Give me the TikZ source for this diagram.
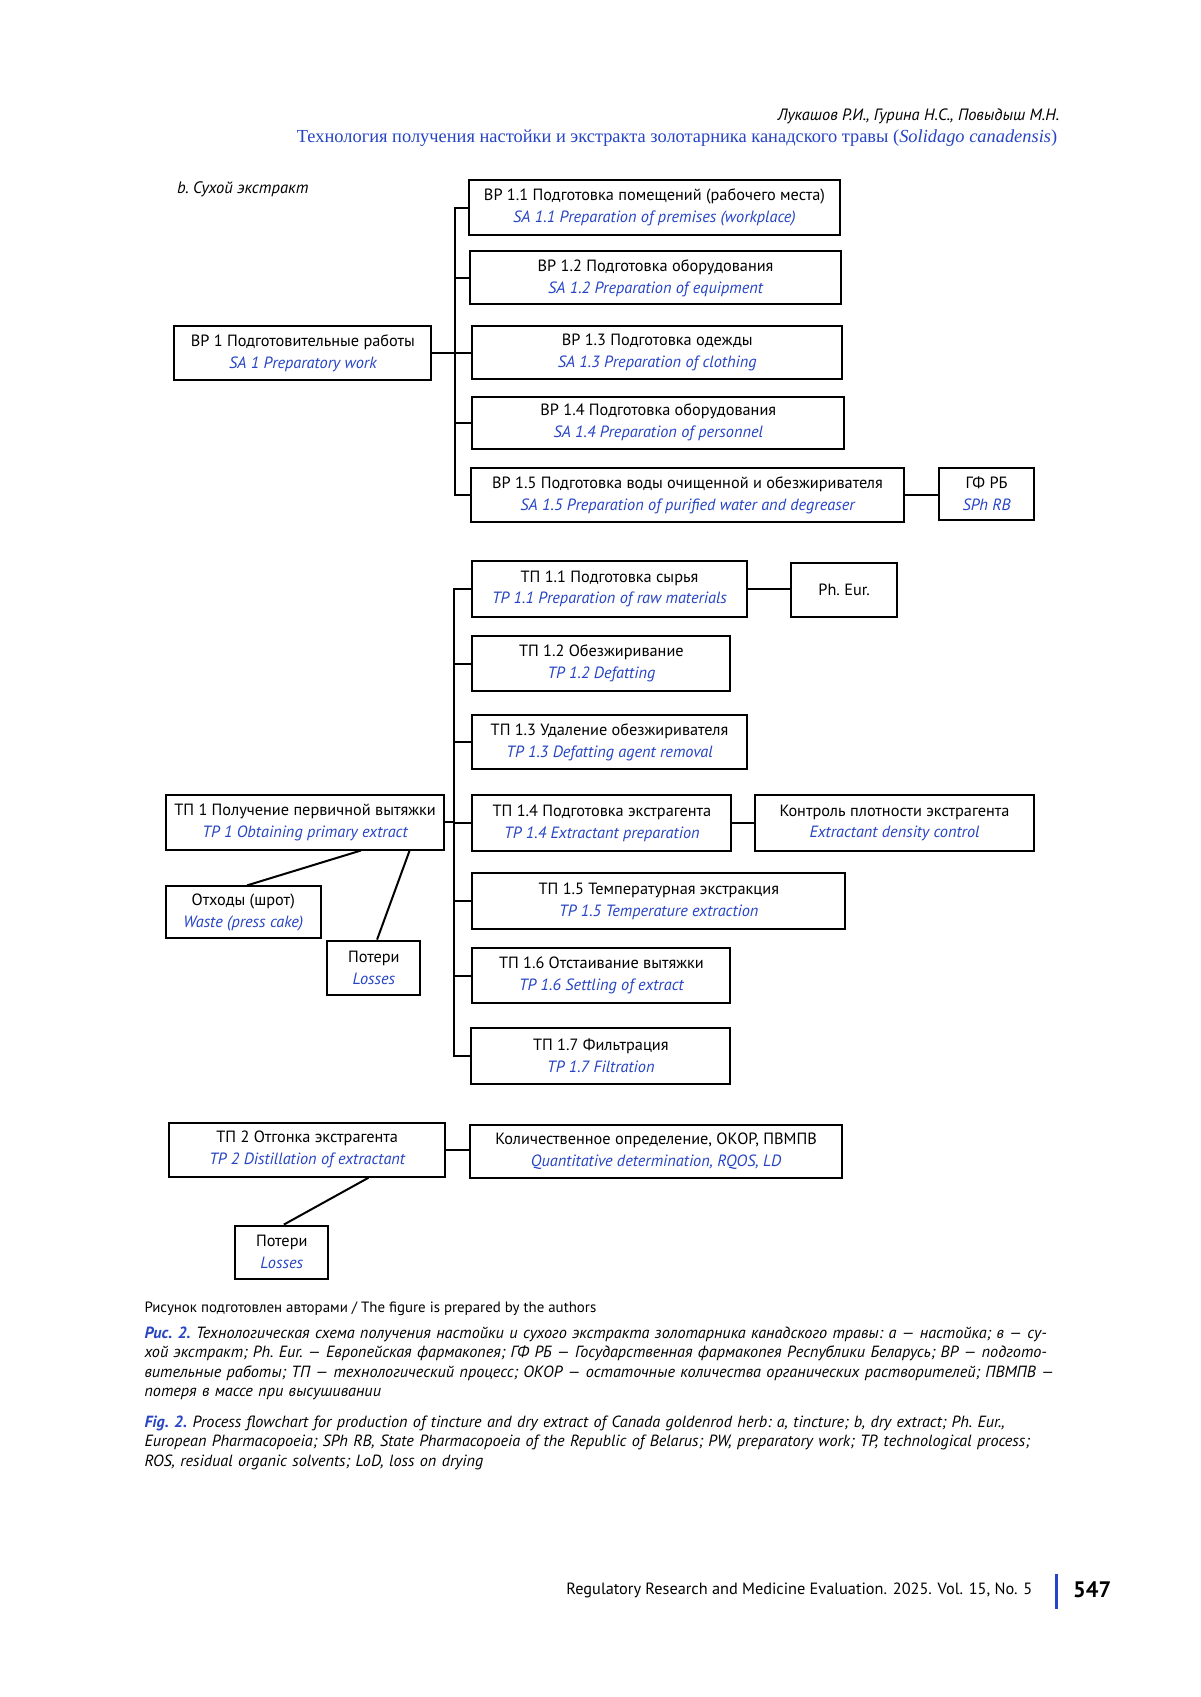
\documentclass[tikz,border=0pt]{standalone}
\usepackage{fontspec}
\setmainfont{PT Sans}
\newfontfamily\hdserif{Liberation Serif}
\usetikzlibrary{calc}
\definecolor{jblue}{RGB}{38,68,196}
\def\pxu{0.5418pt}
\newcommand\bx[6]{\node[box, minimum width={(#4-#2)*\pxu}, minimum height={(#5-#3)*\pxu}] (#1) at ({(#2+#4)/2},{(#3+#5)/2}) {#6};}
\newcommand\tl[2]{#1\\{\color{jblue}\itshape #2}}
\newcommand\jline[1]{\leavevmode\hbox to 452.4pt{#1}}
\begin{document}
\begin{tikzpicture}[x=0.5418pt,y=-0.5418pt,
  box/.style={draw, line width=1pt, align=center, inner sep=0pt, font=\fontsize{8.15}{10.9}\selectfont\frenchspacing},
  ln/.style={line width=1pt}]
\fill[white] (0pt,0pt) rectangle (600pt,-848.5pt);
\useasboundingbox (0pt,0pt) rectangle (600pt,-848.5pt);
% header
\node[anchor=east, inner sep=0pt, font=\fontsize{8.2}{10}\selectfont\itshape] (hd1) at (978,107) {Лукашов Р.И., Гурина Н.С., Повыдыш М.Н.};
\node[anchor=east, inner sep=0pt, font=\fontsize{9.2}{11}\selectfont\hdserif, text=jblue] (hd2) at (976,127) {Технология получения настойки и экстракта золотарника канадского травы (\textit{Solidago canadensis})};
\node[anchor=west, inner sep=0pt, font=\fontsize{8.3}{10}\selectfont\itshape\frenchspacing] (lab) at (163,175) {b. Сухой экстракт};
% BP group
\bx{b11}{433}{166}{775}{217}{\tl{ВР 1.1 Подготовка помещений (рабочего места)}{SA 1.1 Preparation of premises (workplace)}}
\bx{b12}{434}{232}{776}{281}{\tl{ВР 1.2 Подготовка оборудования}{SA 1.2 Preparation of equipment}}
\bx{b13}{436}{301}{777}{350}{\tl{ВР 1.3 Подготовка одежды}{SA 1.3 Preparation of clothing}}
\bx{b14}{436}{366}{779}{414}{\tl{ВР 1.4 Подготовка оборудования}{SA 1.4 Preparation of personnel}}
\bx{b15}{435}{432}{834}{482}{\tl{ВР 1.5 Подготовка воды очищенной и обезжиривателя}{SA 1.5 Preparation of purified water and degreaser}}
\bx{gf}{867}{432}{954}{480}{\tl{ГФ РБ}{SPh RB}}
\bx{bp1}{161}{301}{398}{351}{\tl{ВР 1 Подготовительные работы}{SA 1 Preparatory work}}
\coordinate (t1) at (420,0);
\draw[ln] (b11.west) -- (b11.west -| t1) -- (b15.west -| t1) -- (b15.west);
\draw[ln] (b12.west) -- (b12.west -| t1);
\draw[ln] (b13.west) -- (b13.west -| t1);
\draw[ln] (b14.west) -- (b14.west -| t1);
\draw[ln] (bp1.east) -- (bp1.east -| t1);
\draw[ln] (b15.east) -- (gf.west |- b15.east);
% TP group
\bx{t11}{436}{518}{689}{569}{\tl{ТП 1.1 Подготовка сырья}{TP 1.1 Preparation of raw materials}}
\bx{ph}{730}{520}{828}{569}{Ph. Eur.}
\bx{t12}{436}{587}{674}{638}{\tl{ТП 1.2 Обезжиривание}{TP 1.2 Defatting}}
\bx{t13}{436}{660}{689}{710}{\tl{ТП 1.3 Удаление обезжиривателя}{TP 1.3 Defatting agent removal}}
\bx{t14}{436}{734}{675}{785}{\tl{ТП 1.4 Подготовка экстрагента}{TP 1.4 Extractant preparation}}
\bx{kc}{697}{734}{954}{785}{\tl{Контроль плотности экстрагента}{Extractant density control}}
\bx{tp1}{153}{734}{410}{784}{\tl{ТП 1 Получение первичной вытяжки}{TP 1 Obtaining primary extract}}
\bx{t15}{436}{806}{780}{857}{\tl{ТП 1.5 Температурная экстракция}{TP 1.5 Temperature extraction}}
\bx{t16}{436}{875}{674}{926}{\tl{ТП 1.6 Отстаивание вытяжки}{TP 1.6 Settling of extract}}
\bx{t17}{435}{949}{674}{1000}{\tl{ТП 1.7 Фильтрация}{TP 1.7 Filtration}}
\bx{otx}{153}{818}{296}{866}{\tl{Отходы (шрот)}{Waste (press cake)}}
\bx{pot1}{302}{868}{388}{918}{\tl{Потери}{Losses}}
\coordinate (t2) at (419,0);
\draw[ln] (t11.west) -- (t11.west -| t2) -- (t17.west -| t2) -- (t17.west);
\draw[ln] (t12.west) -- (t12.west -| t2);
\draw[ln] (t13.west) -- (t13.west -| t2);
\draw[ln] (t14.west) -- (t14.west -| t2);
\draw[ln] (t15.west) -- (t15.west -| t2);
\draw[ln] (t16.west) -- (t16.west -| t2);
\draw[ln] (tp1.east) -- (tp1.east -| t2);
\draw[ln] (t11.east) -- (ph.west |- t11.east);
\draw[ln] (t14.east) -- (kc.west |- t14.east);
\draw[ln] ($(tp1.south)+(51.5,0)$) -- ($(otx.north)+(3.5,0)$);
\draw[ln] ($(tp1.south)+(96.5,0)$) -- ($(pot1.north)+(3,0)$);
% TP2
\bx{tp2}{156}{1036}{411}{1086}{\tl{ТП 2 Отгонка экстрагента}{TP 2 Distillation of extractant}}
\bx{kol}{434}{1038}{777}{1087}{\tl{Количественное определение, ОКОР, ПВМПВ}{Quantitative determination, RQOS, LD}}
\bx{pot2}{217}{1131}{303}{1180}{\tl{Потери}{Losses}}
\draw[ln] (tp2.east) -- (kol.west |- tp2.east);
\draw[ln] ($(tp2.south)+(56.5,0)$) -- ($(pot2.north)+(2,0)$);
% captions
\node[anchor=west, inner sep=0pt, font=\fontsize{7.45}{9}\selectfont] (src) at (133,1208) {Рисунок подготовлен авторами / The figure is prepared by the authors};
\node[anchor=north west, inner sep=0pt, text width=452.4pt, align=left, font=\fontsize{8.1}{9.75}\selectfont\itshape\frenchspacing] (cap1) at (133,1224) {%
\jline{{\bfseries\color{jblue}Рис. 2.} Технологическая схема получения настойки и сухого экстракта золотарника канадского травы: а — настойка; в — су-}\\
\jline{хой экстракт; Ph. Eur. — Европейская фармакопея; ГФ РБ — Государственная фармакопея Республики Беларусь; ВР — подгото-}\\
\jline{вительные работы; ТП — технологический процесс; ОКОР — остаточные количества органических растворителей; ПВМПВ —}\\
потеря в массе при высушивании};
\node[anchor=north west, inner sep=0pt, text width=452.4pt, align=left, font=\fontsize{8.1}{9.75}\selectfont\itshape\frenchspacing] (cap2) at (133,1306) {%
\jline{{\bfseries\color{jblue}Fig. 2.} Process flowchart for production of tincture and dry extract of Canada goldenrod herb: a, tincture; b, dry extract; Ph. Eur.,}\\
\jline{European Pharmacopoeia; SPh RB, State Pharmacopoeia of the Republic of Belarus; PW, preparatory work; TP, technological process;}\\
ROS, residual organic solvents; LoD, loss on drying};
% footer
\node[anchor=east, inner sep=0pt, font=\fontsize{8.15}{10}\selectfont] (foot) at (953,1468) {Regulatory Research and Medicine Evaluation. 2025. Vol. 15, No. 5};
\coordinate (bt) at (975,1453);
\coordinate (bb) at (975,1485);
\draw[jblue, line width=1.3pt] (bt) -- (bb);
\node[anchor=west, inner sep=0pt, font=\fontsize{11.2}{13}\selectfont\bfseries] (pg) at (990,1467) {547};
\end{tikzpicture}
\end{document}
